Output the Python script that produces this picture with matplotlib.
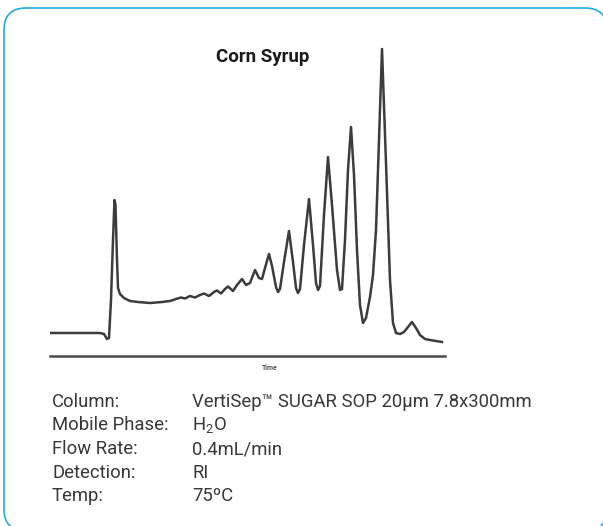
import matplotlib
matplotlib.use("Agg")
import matplotlib.pyplot as plt
from matplotlib.patches import FancyBboxPatch
from matplotlib.transforms import Affine2D

# ---- data: chromatogram trace (time, detector response) ----
time = [0.0, 5.0, 5.4, 5.7, 5.9, 6.1, 6.3, 6.45, 6.55, 6.7, 6.8, 7.0, 7.4, 8.0,
        8.8, 10.0, 11.2, 12.0, 12.6, 13.1, 13.5, 14.0, 14.5, 15.0, 15.4, 15.9,
        16.4, 16.7, 17.1, 17.5, 17.8, 18.3, 18.7, 19.2, 19.6, 20.0, 20.5, 20.9,
        21.2, 21.5, 21.9, 22.2, 22.6, 22.8, 23.0, 23.4, 23.9, 24.3, 24.6, 24.8,
        25.0, 25.4, 25.9, 26.3, 26.6, 26.8, 27.0, 27.4, 27.8, 28.2, 28.7, 29.0,
        29.2, 29.5, 29.8, 30.1, 30.4, 30.7, 31.0, 31.3, 31.6, 32.0, 32.3, 32.6,
        32.9, 33.2, 33.6, 34.0, 34.3, 34.6, 35.0, 35.4, 35.8, 36.2, 36.6, 37.0,
        37.5, 38.0, 38.6, 39.2]
signal = [0, 0, -1, -6, -5, 33, 93, 133, 128, 73, 45, 39, 35, 32,
          31, 30, 31, 32, 34, 35.5, 34.5, 37, 35.5, 38, 39.5, 37,
          41, 42.5, 39.5, 44, 46.5, 42, 48, 54, 48, 50, 63, 55,
          54, 65, 79, 67, 46, 41, 44, 71, 102, 71, 45, 40,
          44, 88, 134, 88, 50, 43, 47, 118, 176, 128, 63, 43,
          44, 93, 163, 206, 158, 83, 28, 10, 15, 36, 58, 103,
          193, 284, 170, 53, 10, 0, -1, 1, 6, 11, 5, -2,
          -6, -7, -8, -9]

title = "Corn Syrup"
x_label = "Time"
info_labels = ["Column:", "Mobile Phase:", "Flow Rate:", "Detection:", "Temp:"]
info_values = ["VertiSep\u2122 SUGAR SOP 20\u00b5m 7.8x300mm", "H$_2$O",
               "0.4mL/min", "RI", "75\u00baC"]

W, H = 603, 526
plt.rcParams['font.family'] = ['Roboto', 'DejaVu Sans']
plt.rcParams['mathtext.fontset'] = 'custom'
plt.rcParams['mathtext.rm'] = 'Roboto'
plt.rcParams['mathtext.it'] = 'Roboto'

fig = plt.figure(figsize=(W / 100, H / 100), dpi=100)
fig.patch.set_facecolor('white')

# pixel coordinates (origin bottom-left) -> figure
px = Affine2D().scale(1.0 / W, 1.0 / H) + fig.transFigure

# rounded cyan frame (partly outside the canvas at right and bottom);
# an opaque white face (drawn beneath everything) avoids Agg's curve clipping artefact
frame = FancyBboxPatch((4, H - 531), 603, 523,
                       boxstyle="round,pad=0,rounding_size=22",
                       transform=px, facecolor='white',
                       edgecolor='#22ace4', linewidth=1.2, zorder=-10)
fig.patches.append(frame)

# chromatogram axes
ax_left, ax_right = 50, 445
ax_bottom, ax_top = 356, 45
ax = fig.add_axes([ax_left / W, 1 - ax_bottom / H,
                   (ax_right - ax_left) / W, (ax_bottom - ax_top) / H])
ax.plot(time, signal, color='#3c3c3c', linewidth=1.8, solid_joinstyle='round')
ax.set_xlim(0, 39.5)
ax.set_ylim(-23, 288)
for s in ['top', 'right', 'left']:
    ax.spines[s].set_visible(False)
ax.spines['bottom'].set_color('#4a4a4a')
ax.spines['bottom'].set_linewidth(1.8)
ax.set_xticks([])
ax.set_yticks([])
ax.patch.set_alpha(0)

fig.text(270 / W, 1 - 368 / H, x_label, fontsize=5, color='#555555',
         ha='center', va='center', fontweight='bold')

fig.text(263 / W, 1 - 57 / H, title, fontsize=13.5, color='#1a1a1a',
         ha='center', va='center', fontweight='semibold')

ys = [402, 425, 449, 473, 496]
for lab, val, y in zip(info_labels, info_values, ys):
    fig.text(52 / W, 1 - y / H, lab, fontsize=13.3, color='#383838',
             ha='left', va='center')
    fig.text(192 / W, 1 - y / H, val, fontsize=13.3, color='#383838',
             ha='left', va='center')

fig.savefig("out.png", dpi=100, facecolor='white')
